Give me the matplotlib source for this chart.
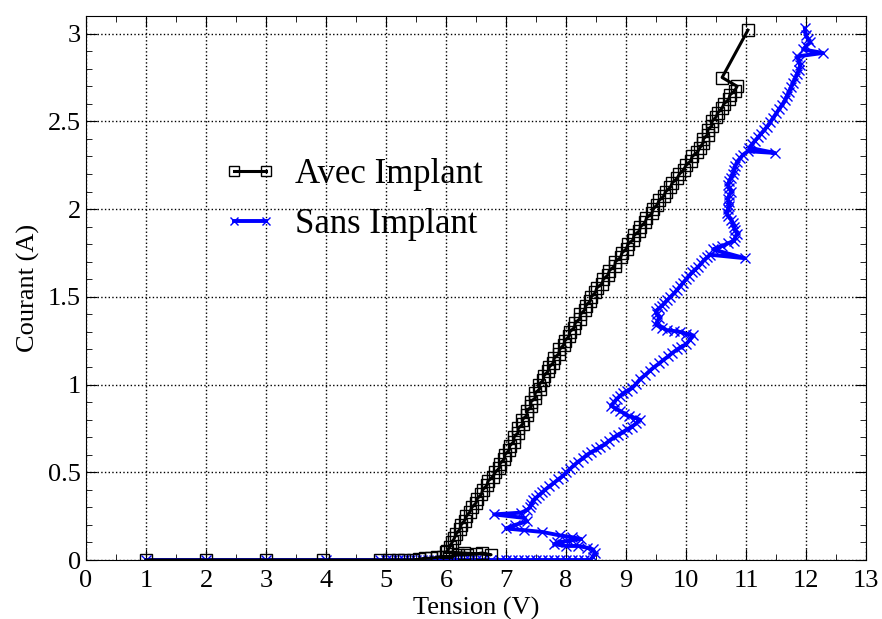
import matplotlib
matplotlib.use('Agg')
import matplotlib.pyplot as plt
from matplotlib.lines import Line2D
from matplotlib.legend_handler import HandlerLine2D
from matplotlib.ticker import MultipleLocator, FormatStrFormatter

plt.rcParams['font.family'] = ['Liberation Serif', 'DejaVu Serif']

# Avec Implant (tension V, courant A)
avec_v = [1, 2, 3, 3.95, 4.9, 5.05, 5.2, 5.3, 5.45, 5.55, 5.65, 5.75, 5.85, 5.95,
          6.05, 6.2, 6.35, 6.5, 6.6, 6.75, 6.3, 6.0,
          6.02, 6.06, 6.1, 6.14, 6.17, 6.23, 6.25, 6.31, 6.34, 6.4, 6.43, 6.5, 6.52,
          6.59, 6.61, 6.68, 6.7, 6.78, 6.82,
          6.89, 6.9, 6.97, 6.98, 7.05, 7.06, 7.13, 7.13, 7.2, 7.2, 7.28, 7.27, 7.35,
          7.35, 7.42, 7.41, 7.49, 7.48, 7.56, 7.55,
          7.62, 7.63, 7.7, 7.72, 7.79, 7.8, 7.88, 7.89, 7.96, 7.98, 8.05, 8.06, 8.14,
          8.15, 8.23, 8.24, 8.31, 8.33, 8.4, 8.42,
          8.49, 8.51, 8.6, 8.62, 8.7, 8.72, 8.81, 8.82, 8.91, 8.93, 9.01, 9.03, 9.12,
          9.13, 9.22, 9.24, 9.32, 9.34, 9.43, 9.45,
          9.52, 9.55, 9.63, 9.66, 9.74, 9.77, 9.85, 9.89, 9.96, 10.0, 10.08, 10.1,
          10.19, 10.23,
          10.28, 10.29, 10.36, 10.36, 10.43, 10.43,
          10.5, 10.53, 10.6, 10.63, 10.71, 10.73, 10.81, 10.85, 10.6, 11.03]
avec_a = [0, 0, 0, 0, 0, 0, 0, 0, 0, 0.005, 0.01, 0.01, 0.015, 0.02,
          0.02, 0.03, 0.03, 0.035, 0.04, 0.03, 0.04, 0.045,
          0.05, 0.075, 0.1, 0.125, 0.15, 0.175, 0.2, 0.225, 0.25, 0.275, 0.3, 0.325,
          0.35, 0.375, 0.4, 0.425, 0.45, 0.475, 0.5,
          0.525, 0.55, 0.575, 0.6, 0.625, 0.65, 0.675, 0.7, 0.725, 0.75, 0.775, 0.8,
          0.825, 0.85, 0.875, 0.9, 0.925, 0.95, 0.975, 1.0,
          1.025, 1.05, 1.075, 1.1, 1.125, 1.15, 1.175, 1.2, 1.225, 1.25, 1.275, 1.3,
          1.325, 1.35, 1.375, 1.4, 1.425, 1.45, 1.475, 1.5,
          1.525, 1.55, 1.575, 1.6, 1.625, 1.65, 1.675, 1.7, 1.725, 1.75, 1.775, 1.8,
          1.825, 1.85, 1.875, 1.9, 1.925, 1.95, 1.975, 2.0,
          2.025, 2.05, 2.075, 2.1, 2.125, 2.15, 2.175, 2.2, 2.225, 2.25, 2.275, 2.3,
          2.325, 2.35,
          2.375, 2.4, 2.425, 2.45, 2.475, 2.5,
          2.525, 2.55, 2.575, 2.6, 2.625, 2.65, 2.675, 2.7, 2.75, 3.02]

# Sans Implant
sans_v = [1, 2, 3, 4, 4.9, 5.0, 5.1, 5.2, 5.3, 5.4, 5.5, 5.6, 5.7, 5.8, 5.9, 6.0,
          6.1, 6.2, 6.3, 6.4, 6.5, 6.6, 6.75, 6.9, 7.0, 7.1, 7.2, 7.3, 7.4, 7.5,
          7.6, 7.7, 7.8, 7.9, 8.0, 8.1, 8.2, 8.3, 8.4,
          8.45, 8.48, 8.45, 8.35, 8.2, 8.0, 7.8, 7.85, 8.05, 8.25, 8.1, 7.9, 7.6,
          7.3, 7.0, 7.15, 7.35, 7.3, 6.8, 7.25, 7.35, 7.4, 7.42, 7.45, 7.5, 7.55,
          7.6, 7.65, 7.72, 7.8, 7.87, 7.95, 8.0, 8.07, 8.13, 8.2, 8.28, 8.35, 8.42,
          8.5, 8.57, 8.65, 8.72, 8.8, 8.87, 8.95, 9.02, 9.1, 9.17, 9.23, 9.15, 9.05,
          8.97, 8.9, 8.82, 8.75, 8.8, 8.85, 8.9, 8.95, 9.02, 9.1, 9.17, 9.23, 9.32,
          9.4, 9.47, 9.55, 9.62, 9.7, 9.77, 9.85, 9.92, 10.0, 10.06, 10.12, 10.0,
          9.9, 9.8, 9.68, 9.6, 9.5, 9.52, 9.55, 9.52, 9.5, 9.55, 9.6, 9.64, 9.68,
          9.74, 9.8, 9.85, 9.9, 9.95, 10.0, 10.05, 10.1, 10.15, 10.2, 10.25, 10.3,
          10.35, 10.4, 10.98, 10.45, 10.52, 10.6, 10.7, 10.8, 10.82, 10.85, 10.82,
          10.8, 10.78, 10.75, 10.7, 10.68, 10.7, 10.72, 10.71, 10.7, 10.72, 10.75,
          10.72, 10.7, 10.72, 10.75, 10.78, 10.8, 10.82, 10.85, 10.9, 10.95, 11.03,
          11.48, 11.05, 11.1, 11.15, 11.2, 11.25, 11.3, 11.35, 11.4, 11.45, 11.5,
          11.55, 11.6, 11.65, 11.68, 11.72, 11.75, 11.78, 11.82, 11.85, 11.88, 11.9,
          11.88, 11.85, 12.28, 11.95, 12.0, 12.07, 12.03, 12.0, 11.98]
sans_a = [0, 0, 0, 0, 0, 0, 0, 0, 0, 0, 0, 0, 0, 0, 0, 0,
          0, 0, 0, 0, 0, 0, 0, 0, 0, 0, 0, 0, 0, 0,
          0, 0, 0, 0, 0, 0, 0, 0, 0,
          0.02, 0.04, 0.06, 0.07, 0.08, 0.08, 0.09, 0.1, 0.11, 0.12, 0.13, 0.14, 0.16,
          0.17, 0.18, 0.2, 0.22, 0.24, 0.26, 0.27, 0.285, 0.3, 0.32, 0.34, 0.355, 0.37,
          0.385, 0.4, 0.42, 0.44, 0.46, 0.48, 0.5, 0.52, 0.54, 0.56, 0.58, 0.6, 0.615,
          0.63, 0.645, 0.66, 0.68, 0.7, 0.715, 0.73, 0.745, 0.76, 0.78, 0.8, 0.81, 0.82,
          0.835, 0.85, 0.865, 0.88, 0.9, 0.92, 0.935, 0.95, 0.965, 0.98, 1.005, 1.03, 1.055,
          1.08, 1.1, 1.12, 1.14, 1.16, 1.18, 1.2, 1.215, 1.23, 1.255, 1.28, 1.29,
          1.3, 1.305, 1.31, 1.325, 1.34, 1.36, 1.38, 1.4, 1.42, 1.435, 1.45, 1.465, 1.48,
          1.5, 1.52, 1.54, 1.56, 1.58, 1.6, 1.62, 1.64, 1.655, 1.67, 1.69, 1.71,
          1.725, 1.74, 1.72, 1.77, 1.78, 1.79, 1.805, 1.82, 1.84, 1.86, 1.88,
          1.9, 1.92, 1.94, 1.96, 1.98, 2.0, 2.02, 2.04, 2.06, 2.08, 2.1,
          2.12, 2.14, 2.16, 2.18, 2.2, 2.22, 2.245, 2.27, 2.29, 2.31, 2.33,
          2.32, 2.35, 2.37, 2.39, 2.41, 2.43, 2.45, 2.47, 2.495, 2.52, 2.545,
          2.57, 2.595, 2.62, 2.645, 2.67, 2.695, 2.72, 2.745, 2.77, 2.795, 2.82,
          2.845, 2.87, 2.89, 2.91, 2.93, 2.95, 2.97, 2.99, 3.03]

fig = plt.figure(figsize=(8.82, 6.19), dpi=100)
ax = fig.add_axes([0.0975, 0.0953, 0.8845, 0.8787])

ax.plot(avec_v, avec_a, color='black', lw=2.2, marker='s', ms=8, mfc='none',
        mec='black', mew=1, label='Avec Implant', zorder=3)
ax.plot(sans_v, sans_a, color='blue', lw=2.8, marker='x', ms=7, mew=1,
        label='Sans Implant', zorder=2)

ax.set_xlim(0, 13)
ax.set_ylim(0, 3.1)
ax.xaxis.set_major_locator(MultipleLocator(1))
ax.xaxis.set_minor_locator(MultipleLocator(0.5))
ax.yaxis.set_major_locator(MultipleLocator(0.5))
ax.yaxis.set_minor_locator(MultipleLocator(0.1))
ax.yaxis.set_major_formatter(FormatStrFormatter('%g'))
ax.tick_params(which='both', direction='in', top=True, right=True, labelsize=19)
ax.tick_params(which='major', length=8)
ax.tick_params(which='minor', length=4)
ax.tick_params(axis='x', pad=7)
ax.grid(True, which='major', linestyle=':', color='black', lw=1)

ax.set_xlabel('Tension (V)', fontsize=19, labelpad=4)
ax.set_ylabel('Courant (A)', fontsize=19, labelpad=6)

ax.legend(loc='upper left', bbox_to_anchor=(0.15, 0.797), frameon=False,
          fontsize=25, markerscale=0.9, handlelength=0.9,
          handletextpad=0.85, labelspacing=0.5,
          handler_map={Line2D: HandlerLine2D(marker_pad=0, numpoints=2)})

plt.savefig('out.png', dpi=100)
